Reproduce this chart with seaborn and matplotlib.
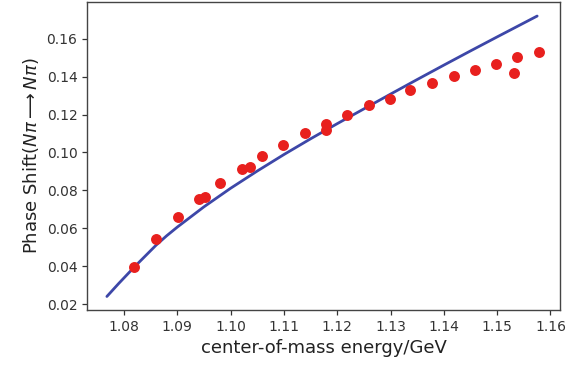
import matplotlib
matplotlib.use('Agg')
import matplotlib.pyplot as plt
import pandas as pd
import seaborn as sns

# measured phase shifts (red dots)
energy = [1.0819, 1.0861, 1.0901, 1.0941, 1.0952, 1.0980, 1.1021, 1.1036,
          1.1059, 1.1099, 1.1140, 1.1179, 1.1179, 1.1219, 1.1260, 1.1299,
          1.1337, 1.1378, 1.1419, 1.1459, 1.1498, 1.1538, 1.1532, 1.1579]
phase = [0.0393, 0.0541, 0.0660, 0.0756, 0.0765, 0.0840, 0.0914, 0.0923,
         0.0980, 0.1038, 0.1102, 0.1151, 0.1121, 0.1198, 0.1251, 0.1283,
         0.1332, 0.1367, 0.1405, 0.1437, 0.1467, 0.1502, 0.1420, 0.1528]

# model curve (blue line)
fit_energy = [1.0768, 1.079, 1.082, 1.086, 1.088, 1.090, 1.095, 1.100,
              1.105, 1.110, 1.115, 1.120, 1.125, 1.130, 1.135, 1.140,
              1.145, 1.150, 1.1575]
fit_phase = [0.0240, 0.0308, 0.0397, 0.0510, 0.0560, 0.0606, 0.0713, 0.0811,
             0.0902, 0.0989, 0.1072, 0.1152, 0.1230, 0.1308, 0.1385, 0.1461,
             0.1536, 0.1610, 0.1720]

df_pts = pd.DataFrame({'energy': energy, 'phase': phase})
df_fit = pd.DataFrame({'energy': fit_energy, 'phase': fit_phase})

sns.set_style('ticks')
plt.rcParams['font.family'] = ['DejaVu Sans']

fig = plt.figure(figsize=(5.81, 3.67), dpi=100)
ax = fig.add_axes([0.150, 0.155, 0.814, 0.840])

sns.lineplot(data=df_fit, x='energy', y='phase', ax=ax, color='#3d47a8',
             linewidth=2, sort=True)
sns.scatterplot(data=df_pts, x='energy', y='phase', ax=ax, color='#e8201e',
                s=62, linewidth=0, zorder=3)

ax.set_xticks([1.08, 1.09, 1.10, 1.11, 1.12, 1.13, 1.14, 1.15, 1.16])
ax.set_yticks([0.02, 0.04, 0.06, 0.08, 0.10, 0.12, 0.14, 0.16])
ax.set_xticklabels(['1.08', '1.09', '1.10', '1.11', '1.12', '1.13', '1.14', '1.15', '1.16'])
ax.set_yticklabels(['0.02', '0.04', '0.06', '0.08', '0.10', '0.12', '0.14', '0.16'])
ax.set_xlim(1.0731, 1.1618)
ax.set_ylim(0.0168, 0.1795)
ax.tick_params(labelsize=10, colors='#333333', length=3.5, width=0.9)
for sp in ax.spines.values():
    sp.set_visible(True)
    sp.set_color('#444444')
    sp.set_linewidth(1.0)

ax.set_xlabel('center-of-mass energy/GeV', fontsize=13, color='#222222')
ax.set_ylabel(r'Phase Shift($N\pi\longrightarrow N\pi$)', fontsize=13, color='#222222')

fig.savefig('out.png', dpi=100)
